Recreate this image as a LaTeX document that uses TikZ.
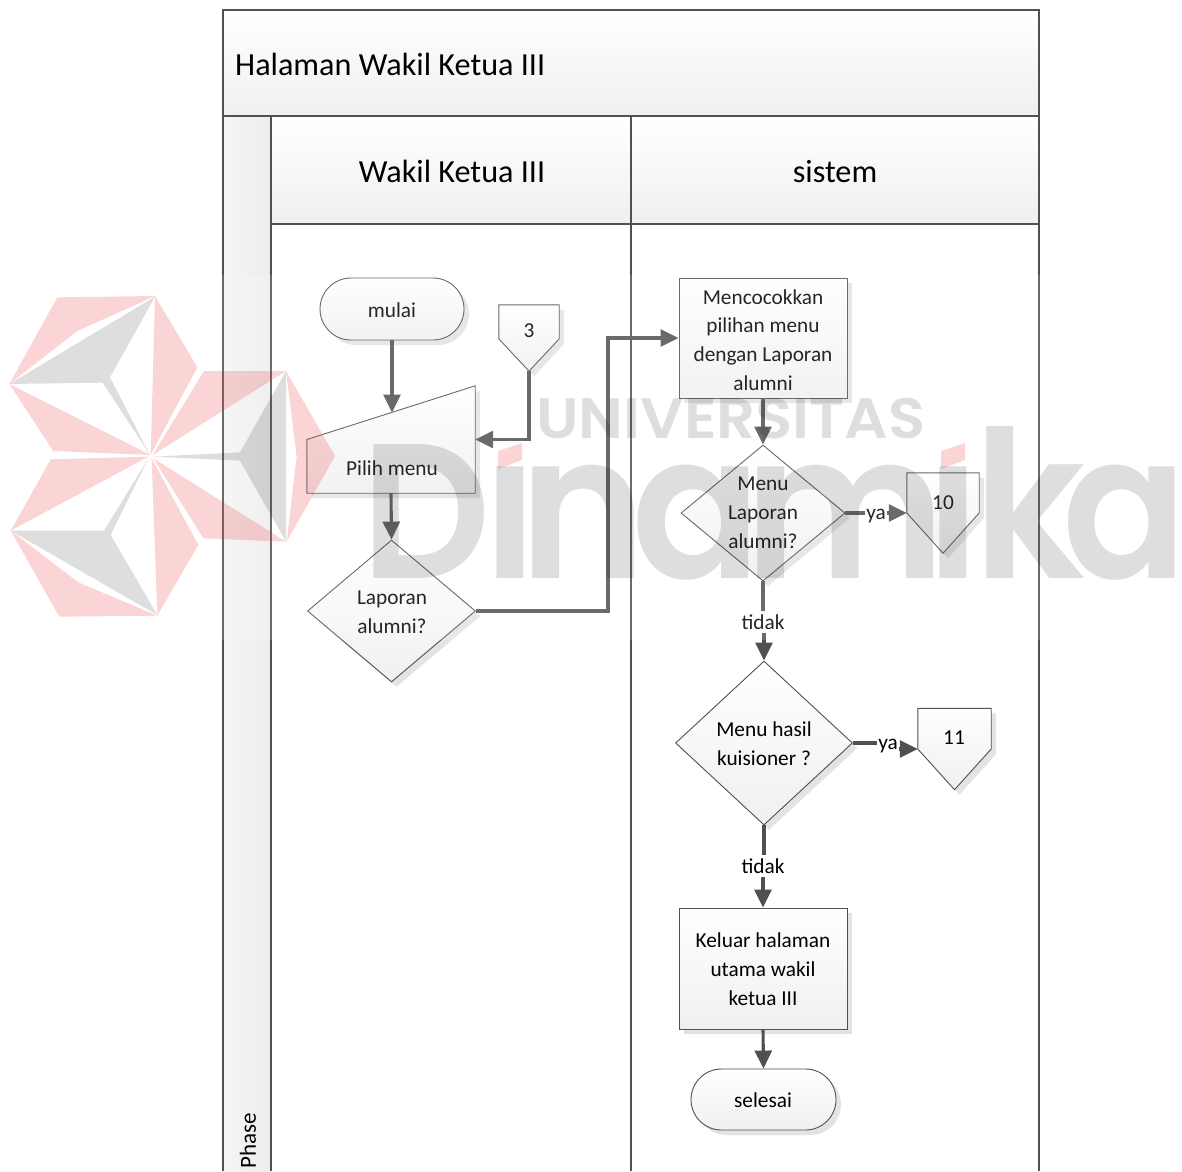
\documentclass[tikz,border=0pt]{standalone}
\usepackage{fontspec}
\usepackage{graphicx}
\setmainfont{Carlito}
\newfontfamily\wmfont{Poppins SemiBold}
\usetikzlibrary{arrows.meta,shapes.geometric,shapes.misc,shadows,calc}
\definecolor{ln}{HTML}{505050}
\definecolor{wmred}{RGB}{235,40,45}
\colorlet{EFEFEF}{black!6}
\tikzset{
  hdr/.style={draw=ln,line width=2.6pt,top color=white,bottom color=EFEFEF,inner sep=0pt},
  hdrtxt/.style={inner sep=0pt,font=\fontsize{32.2}{38}\selectfont},
  swim/.style={draw=ln,line width=2.6pt},
  shp/.style={draw=ln,line width=0.9pt,top color=white,bottom color=EFEFEF,
    general shadow={shadow xshift=5pt,shadow yshift=-5pt,fill=black,opacity=.11}},
  box/.style={shp,inner sep=0pt},
  ghost/.style={inner sep=0pt},
  txt/.style={align=center,inner sep=0pt,font=\fontsize{21.3}{28.8}\selectfont},
  lbl/.style={align=center,inner sep=3pt,font=\fontsize{21.3}{25}\selectfont},
  conn/.style={draw=ln,line width=3.1pt},
  arr/.style={conn,-{Triangle[length=18pt,width=17pt]}},
  wmgray/.style={fill=black,opacity=.13},
  wmpink/.style={fill=wmred,opacity=.2},
  wmtxt/.style={inner sep=0pt,anchor=base,text=black,text opacity=.13},
  wmbig/.style={wmtxt,font=\wmfont\fontsize{192}{200}\selectfont},
}
\begin{document}
\begin{tikzpicture}[x=1pt,y=-1pt]
\useasboundingbox (0,0) rectangle (1182,1171);
\clip (0,0) rectangle (1182,1171);
% swimlane frame
\path[left color=black!4,middle color=white,right color=black!7] (223,116) rectangle (271,1171);
\draw[swim] (223,116) -- (223,1171);
\draw[swim] (271,116) -- (271,1171);
\draw[swim] (631,116) -- (631,1171);
\draw[swim] (1039,116) -- (1039,1171);
\node[hdr,minimum width=816pt,minimum height=106pt] (title) at (631,63) {};
\node[hdrtxt,anchor=west] (ttitle) at (235,64.5) {Halaman Wakil Ketua III};
\node[hdr,minimum width=360pt,minimum height=108pt] (lane1) at (451,170) {};
\node[hdrtxt] (tlane1) at (452,171.5) {Wakil Ketua III};
\node[hdr,minimum width=408pt,minimum height=108pt] (lane2) at (835,170) {};
\node[hdrtxt] (tlane2) at (835,171.5) {sistem};
\node[rotate=90,anchor=west,inner sep=0pt,font=\fontsize{23}{27}\selectfont] (phase) at (248,1169) {Phase};

% shapes
\node[box,rounded rectangle,minimum width=144pt,minimum height=62pt] (mulai) at (392,309) {};
\node[txt] (tmulai) at (392,310) {mulai};

\node[ghost,minimum width=168pt,minimum height=107pt] (pilih) at (391,439.5) {};
\coordinate (piliht) at (392,412.5);
\path[shp] (pilih.west) -- (pilih.north east) -- (pilih.south east) -- (pilih.south west) -- cycle;
\node[txt] (tpilih) at (392,468) {Pilih menu};

\node[ghost,minimum width=60pt,minimum height=66pt] (c3) at (529,338) {};
\path[shp] (c3.north west) -- (c3.north east) -- ($(c3.north east)+(0,34)$) -- (c3.south) -- ($(c3.north west)+(0,34)$) -- cycle;
\node[txt] (tc3) at (529,331) {3};

\node[box,diamond,aspect=1,minimum width=168pt,minimum height=142pt] (lap) at (391.5,611) {};
\node[txt] (tlap) at (392,612) {Laporan\\alumni?};

\node[box,minimum width=168pt,minimum height=120pt] (proc) at (763,338) {};
\node[txt] (tproc) at (763,340) {Mencocokkan\\pilihan menu\\dengan Laporan\\alumni};

\node[box,diamond,aspect=1,minimum width=164pt,minimum height=136pt] (d1) at (763,513) {};
\node[txt] (td1) at (763,513) {Menu\\Laporan\\alumni?};

\node[ghost,minimum width=72pt,minimum height=80pt] (c10) at (943,513) {};
\path[shp] (c10.north west) -- (c10.north east) -- (c10.east) -- (c10.south) -- (c10.west) -- cycle;
\node[txt] (tc10) at (943,503) {10};

\node[box,diamond,aspect=1,minimum width=177pt,minimum height=164pt] (d2) at (764,743) {};
\node[txt] (td2) at (764,744) {Menu hasil\\kuisioner ?};

\node[ghost,minimum width=73pt,minimum height=81pt] (c11) at (954.5,749) {};
\path[shp] (c11.north west) -- (c11.north east) -- (c11.east) -- (c11.south) -- (c11.west) -- cycle;
\node[txt] (tc11) at (954,738) {11};

\node[box,minimum width=168pt,minimum height=121pt] (kel) at (763,968.5) {};
\node[txt] (tkel) at (763,969) {Keluar halaman\\utama wakil\\ketua III};

\node[box,rounded rectangle,minimum width=145pt,minimum height=61pt] (sel) at (763.5,1099.5) {};
\node[txt] (tsel) at (763,1100) {selesai};

% connector labels
\node[lbl] (t1) at (763,622) {tidak};
\node[lbl] (t2) at (763,866) {tidak};
\node[lbl,inner sep=1pt] (y1) at (876,516) {ya};
\node[lbl,inner sep=1pt] (y2) at (888,746) {ya};

% connectors
\draw[arr] (mulai.south) -- (piliht);
\draw[arr] (pilih.south) -- (lap.north);
\draw[arr] (c3.south) |- (pilih.east);
\draw[arr] (lap.east) -- ++(132,0) |- (proc.west);
\draw[arr] (proc.south) -- (d1.north);
\draw[conn] (d1.east) -- (d1.east -| y1.west);
\draw[arr] (y1.east |- c10.west) -- (c10.west);
\draw[conn] (d1.south) -- (t1.north);
\draw[arr] (t1.south -| d2.north) -- (d2.north);
\draw[conn] (d2.east) -- (d2.east -| y2.west);
\draw[arr] (y2.east |- c11.west) -- (c11.west);
\draw[conn] (d2.south) -- (d2.south |- t2.north);
\draw[arr] (t2.south) -- (kel.north);
\draw[arr] (kel.south) -- (sel.north);

% watermark
\fill[white,opacity=.15] (0,275) rectangle (1182,640);
\begin{scope}[x=0.33333pt,y=-0.33333pt,yshift=-270pt]
\fill[wmpink] (172,82) -- (465,78) -- (232,183) -- (28,342) -- cycle;
\fill[wmgray] (28,342) -- (465,80) -- (330,322) -- (450,555) -- (308,338) -- cycle;
\fill[wmpink] (465,78) -- (592,292) -- (470,520) -- (452,555) -- cycle;
\fill[wmpink] (28,342) -- (160,543) -- (452,555) -- cycle;
\fill[wmpink] (152,568) -- (445,560) -- (32,782) -- cycle;
\fill[wmgray] (32,782) -- (312,782) -- (445,565) -- (332,795) -- (472,1035) -- cycle;
\fill[wmpink] (32,782) -- (178,1040) -- (472,1037) -- (235,937) -- cycle;
\fill[wmpink] (455,565) -- (472,1037) -- (595,825) -- cycle;
\fill[wmpink] (460,565) -- (610,805) -- (858,815) -- cycle;
\fill[wmpink] (612,303) -- (858,303) -- (458,555) -- cycle;
\fill[wmgray] (858,303) -- (720,547) -- (460,560) -- (720,572) -- (858,815) -- cycle;
\fill[wmpink] (858,303) -- (1005,558) -- (860,815) -- (890,560) -- cycle;
\end{scope}
\fill[wmpink] (498,451) -- (522,443) -- (522,460) -- (498,469) -- cycle;
\fill[wmpink] (941,451) -- (965,443) -- (965,460) -- (941,469) -- cycle;
\node[wmtxt,font=\wmfont\fontsize{57}{60}\selectfont] (wmuni) at (731,438) {\scalebox{1.07}[1]{UNIVERSITAS}};
\node[wmbig] (wmD) at (426,578) {\scalebox{.94}[1]{D}};
\node[wmbig] (wmi) at (510,578) {\scalebox{1}[1.05]{ı}};
\node[wmbig] (wmn) at (583,578) {\scalebox{1}[1.05]{n}};
\node[wmbig] (wma) at (697,578) {\scalebox{1}[1.05]{a}};
\node[wmbig] (wmm) at (845,578) {\scalebox{1}[1.05]{m}};
\node[wmbig] (wmii) at (953,578) {\scalebox{1}[1.05]{ı}};
\node[wmbig] (wmk) at (1030,578) {\scalebox{1}[1.07]{k}};
\node[wmbig] (wmaa) at (1125,578) {\scalebox{.96}[1.05]{a}};
\end{tikzpicture}
\end{document}
